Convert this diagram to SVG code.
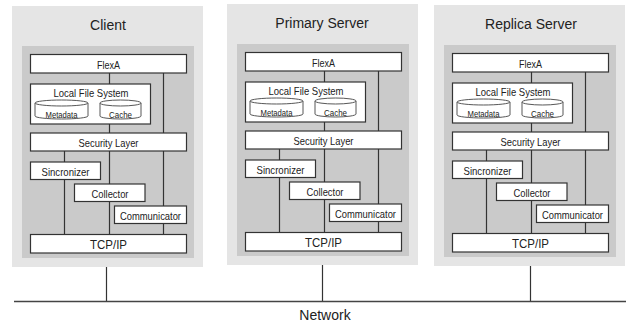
<svg xmlns="http://www.w3.org/2000/svg" width="626" height="329" viewBox="0 0 626 329">
<style>
.outer{fill:#e5e5e5}
.inner{fill:#cacaca}
.box{fill:#fff;stroke:#333;stroke-width:1.2}
.cyl{fill:#fff;stroke:#444;stroke-width:0.9}
.ln{stroke:#333;stroke-width:1.2;fill:none}
.net{stroke:#444;stroke-width:1.6;fill:none}
text{font-family:"Liberation Sans",Arial,sans-serif;fill:#222;text-anchor:middle}
.t{font-size:14px}
.l{font-size:11.5px}
.s{font-size:9px}
.b{font-size:13.5px}
</style>
<defs>
<g id="cylM">
<path class="cyl" d="M35,103 V116 A26.5,3 0 0 0 88,116 V103"/>
<ellipse class="cyl" cx="61.5" cy="103" rx="26.5" ry="3"/>
</g>
<g id="cylC">
<path class="cyl" d="M100,103 V116 A20.5,3 0 0 0 141,116 V103"/>
<ellipse class="cyl" cx="120.5" cy="103" rx="20.5" ry="3"/>
</g>
</defs>

<!-- panel backgrounds -->
<g id="client-panel">
<rect class="outer" x="12" y="6" width="191" height="261"/>
<rect class="inner" x="22" y="46" width="172" height="212"/>
<text class="t" x="108" y="29.5">Client</text>
</g>
<g id="primary-panel" transform="translate(215,-2)">
<rect class="outer" x="12" y="6" width="191" height="261"/>
<rect class="inner" x="22" y="46" width="172" height="212"/>
<text class="t" x="107" y="29.5">Primary Server</text>
</g>
<g id="replica-panel" transform="translate(422,-1)">
<rect class="outer" x="12" y="6" width="191" height="261"/>
<rect class="inner" x="22" y="46" width="172" height="212"/>
<text class="t" x="109" y="29.5">Replica Server</text>
</g>

<!-- connectors -->
<g id="connectors">
<g transform="translate(0,0)">
<path class="ln" d="M109.5,73 V234 M163.5,73 V234 M64.5,151 V234"/>
</g>
<g transform="translate(215,-2)">
<path class="ln" d="M109.5,73 V234 M163.5,73 V234 M64.5,151 V234"/>
</g>
<g transform="translate(422,-1)">
<path class="ln" d="M109.5,73 V234 M163.5,73 V234 M64.5,151 V234"/>
</g>
<path class="ln" d="M106.5,267 V301.5 M322.5,265 V301.5 M530.5,266 V301.5"/>
<path class="net" d="M14,301.5 H626"/>
</g>

<!-- Client nodes -->
<g id="client" transform="translate(0,0)">
<g id="client-flexa"><rect class="box" x="30.5" y="54.5" width="156" height="18.5"/><text class="l" x="108.5" y="68.5" textLength="23" lengthAdjust="spacingAndGlyphs">FlexA</text></g>
<g id="client-lfs"><rect class="box" x="30.5" y="84" width="120" height="40"/><text class="l" x="91" y="97" textLength="75" lengthAdjust="spacingAndGlyphs">Local File System</text>
<g id="client-metadata"><use href="#cylM"/><text class="s" x="61.5" y="118" textLength="32" lengthAdjust="spacingAndGlyphs">Metadata</text></g>
<g id="client-cache"><use href="#cylC"/><text class="s" x="120.5" y="118" textLength="23" lengthAdjust="spacingAndGlyphs">Cache</text></g></g>
<g id="client-security"><rect class="box" x="30.5" y="133" width="156" height="18"/><text class="l" x="108.5" y="146.8" textLength="60" lengthAdjust="spacingAndGlyphs">Security Layer</text></g>
<g id="client-sincronizer"><rect class="box" x="30.5" y="162" width="70" height="17.5"/><text class="l" x="65.5" y="175.5" textLength="48" lengthAdjust="spacingAndGlyphs">Sincronizer</text></g>
<g id="client-collector"><rect class="box" x="74.5" y="184" width="70.5" height="17.5"/><text class="l" x="110" y="197.5" textLength="37" lengthAdjust="spacingAndGlyphs">Collector</text></g>
<g id="client-communicator"><rect class="box" x="114.5" y="206" width="72" height="17.5"/><text class="l" x="150.5" y="219.5" textLength="61" lengthAdjust="spacingAndGlyphs">Communicator</text></g>
<g id="client-tcpip"><rect class="box" x="30.5" y="234.5" width="156" height="18.5"/><text class="b" x="108.5" y="248.8" textLength="37" lengthAdjust="spacingAndGlyphs">TCP/IP</text></g>
</g>

<!-- Primary Server nodes -->
<g id="primary" transform="translate(215,-2)">
<g id="primary-flexa"><rect class="box" x="30.5" y="54.5" width="156" height="18.5"/><text class="l" x="108.5" y="68.5" textLength="23" lengthAdjust="spacingAndGlyphs">FlexA</text></g>
<g id="primary-lfs"><rect class="box" x="30.5" y="84" width="120" height="40"/><text class="l" x="91" y="97" textLength="75" lengthAdjust="spacingAndGlyphs">Local File System</text>
<g id="primary-metadata"><use href="#cylM"/><text class="s" x="61.5" y="118" textLength="32" lengthAdjust="spacingAndGlyphs">Metadata</text></g>
<g id="primary-cache"><use href="#cylC"/><text class="s" x="120.5" y="118" textLength="23" lengthAdjust="spacingAndGlyphs">Cache</text></g></g>
<g id="primary-security"><rect class="box" x="30.5" y="133" width="156" height="18"/><text class="l" x="108.5" y="146.8" textLength="60" lengthAdjust="spacingAndGlyphs">Security Layer</text></g>
<g id="primary-sincronizer"><rect class="box" x="30.5" y="162" width="70" height="17.5"/><text class="l" x="65.5" y="175.5" textLength="48" lengthAdjust="spacingAndGlyphs">Sincronizer</text></g>
<g id="primary-collector"><rect class="box" x="74.5" y="184" width="70.5" height="17.5"/><text class="l" x="110" y="197.5" textLength="37" lengthAdjust="spacingAndGlyphs">Collector</text></g>
<g id="primary-communicator"><rect class="box" x="114.5" y="206" width="72" height="17.5"/><text class="l" x="150.5" y="219.5" textLength="61" lengthAdjust="spacingAndGlyphs">Communicator</text></g>
<g id="primary-tcpip"><rect class="box" x="30.5" y="234.5" width="156" height="18.5"/><text class="b" x="108.5" y="248.8" textLength="37" lengthAdjust="spacingAndGlyphs">TCP/IP</text></g>
</g>

<!-- Replica Server nodes -->
<g id="replica" transform="translate(422,-1)">
<g id="replica-flexa"><rect class="box" x="30.5" y="54.5" width="156" height="18.5"/><text class="l" x="108.5" y="68.5" textLength="23" lengthAdjust="spacingAndGlyphs">FlexA</text></g>
<g id="replica-lfs"><rect class="box" x="30.5" y="84" width="120" height="40"/><text class="l" x="91" y="97" textLength="75" lengthAdjust="spacingAndGlyphs">Local File System</text>
<g id="replica-metadata"><use href="#cylM"/><text class="s" x="61.5" y="118" textLength="32" lengthAdjust="spacingAndGlyphs">Metadata</text></g>
<g id="replica-cache"><use href="#cylC"/><text class="s" x="120.5" y="118" textLength="23" lengthAdjust="spacingAndGlyphs">Cache</text></g></g>
<g id="replica-security"><rect class="box" x="30.5" y="133" width="156" height="18"/><text class="l" x="108.5" y="146.8" textLength="60" lengthAdjust="spacingAndGlyphs">Security Layer</text></g>
<g id="replica-sincronizer"><rect class="box" x="30.5" y="162" width="70" height="17.5"/><text class="l" x="65.5" y="175.5" textLength="48" lengthAdjust="spacingAndGlyphs">Sincronizer</text></g>
<g id="replica-collector"><rect class="box" x="74.5" y="184" width="70.5" height="17.5"/><text class="l" x="110" y="197.5" textLength="37" lengthAdjust="spacingAndGlyphs">Collector</text></g>
<g id="replica-communicator"><rect class="box" x="114.5" y="206" width="72" height="17.5"/><text class="l" x="150.5" y="219.5" textLength="61" lengthAdjust="spacingAndGlyphs">Communicator</text></g>
<g id="replica-tcpip"><rect class="box" x="30.5" y="234.5" width="156" height="18.5"/><text class="b" x="108.5" y="248.8" textLength="37" lengthAdjust="spacingAndGlyphs">TCP/IP</text></g>
</g>

<g id="network"><text class="t" x="325" y="320">Network</text></g>
</svg>
